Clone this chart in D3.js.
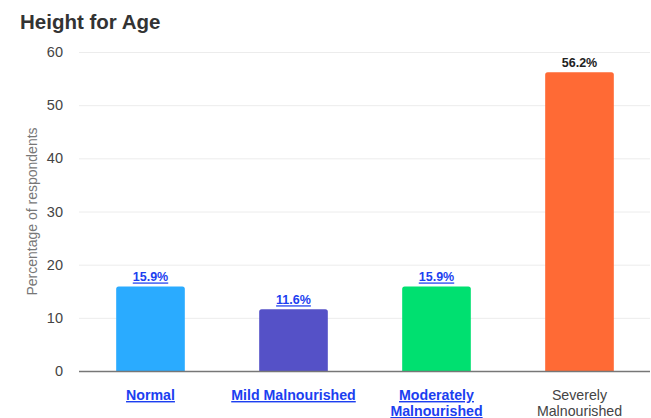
<!DOCTYPE html>
<html>
<head>
<meta charset="utf-8">
<script src="https://cdn.jsdelivr.net/npm/d3@7"></script>
<style>
  html, body { margin: 0; padding: 0; background: #fff; }
  svg { display: block; font-family: Arial, "Liberation Sans", sans-serif; }
</style>
</head>
<body>
<svg id="chart" width="651" height="418"></svg>
<script>
// Height-for-age nutrition status of respondents (%)
const categories = ["Normal", "Mild Malnourished", "Moderately Malnourished", "Severely Malnourished"];
const categoryLines = [["Normal"], ["Mild Malnourished"], ["Moderately", "Malnourished"], ["Severely", "Malnourished"]];
const values = [15.9, 11.6, 15.9, 56.2];
const barColors = ["#2aabff", "#5551c7", "#00e070", "#ff6a35"];
const linked = [true, true, true, false];
const yTicks = [0, 10, 20, 30, 40, 50, 60];

const linkColor = "#1c3ff0";
const svg = d3.select("#chart");
const margin = { left: 79, right: 0, top: 52, bottom: 47 };
const W = 651, H = 418;

const x = d3.scaleBand().domain(categories).range([margin.left, W - margin.right]).paddingInner(0.52).paddingOuter(0.26);
const y = d3.scaleLinear().domain([0, 60]).range([H - margin.bottom, margin.top]);

// title
svg.append("text").attr("x", 20).attr("y", 29)
  .attr("font-size", 20.5).attr("font-weight", "bold").attr("fill", "#333")
  .text("Height for Age");

// gridlines
svg.append("g").selectAll("line").data(yTicks.filter(d => d > 0)).join("line")
  .attr("x1", margin.left).attr("x2", W - 1)
  .attr("y1", d => y(d) + 0.5).attr("y2", d => y(d) + 0.5)
  .attr("stroke", "#ececec").attr("stroke-width", 1);

// y axis tick labels
const yAxis = d3.axisLeft(y).tickValues(yTicks).tickSize(0).tickPadding(16);
const gy = svg.append("g").attr("transform", `translate(${margin.left},0)`).call(yAxis);
gy.select(".domain").remove();
gy.selectAll("text").attr("font-size", 14.5).attr("fill", "#444").attr("font-family", "Arial, 'Liberation Sans', sans-serif");

// y axis title
svg.append("text")
  .attr("transform", `translate(37,${(y(0) + y(60)) / 2}) rotate(-90)`)
  .attr("text-anchor", "middle").attr("font-size", 14).attr("fill", "#777")
  .text("Percentage of respondents");

// bars with slightly rounded top corners
const r = 2.5;
svg.append("g").selectAll("path").data(categories).join("path")
  .attr("d", (c, i) => {
    const x0 = x(c), x1 = x(c) + x.bandwidth(), y0 = y(0), y1 = y(values[i]);
    return `M${x0},${y0}V${y1 + r}Q${x0},${y1} ${x0 + r},${y1}H${x1 - r}Q${x1},${y1} ${x1},${y1 + r}V${y0}Z`;
  })
  .attr("fill", (c, i) => barColors[i]);

// baseline
svg.append("line").attr("x1", margin.left).attr("x2", W - 1)
  .attr("y1", y(0) + 0.5).attr("y2", y(0) + 0.5)
  .attr("stroke", "#777").attr("stroke-width", 1.5);

// value labels
svg.append("g").selectAll("text").data(categories).join("text")
  .attr("x", c => x(c) + x.bandwidth() / 2)
  .attr("y", (c, i) => y(values[i]) - 5)
  .attr("text-anchor", "middle").attr("font-size", 12.5).attr("font-weight", "bold")
  .attr("fill", (c, i) => linked[i] ? linkColor : "#222")
  .attr("text-decoration", (c, i) => linked[i] ? "underline" : "none")
  .text((c, i) => values[i].toFixed(1) + "%");

// category labels
const xl = svg.append("g").selectAll("text").data(categories).join("text")
  .attr("x", c => x(c) + x.bandwidth() / 2)
  .attr("y", 400)
  .attr("text-anchor", "middle").attr("font-size", 14.2)
  .attr("font-weight", (c, i) => linked[i] ? "bold" : "normal")
  .attr("fill", (c, i) => linked[i] ? linkColor : "#444")
  .attr("text-decoration", (c, i) => linked[i] ? "underline" : "none");
xl.each(function (c, i) {
  const t = d3.select(this);
  categoryLines[i].forEach((line, k) => {
    t.append("tspan").attr("x", x(c) + x.bandwidth() / 2).attr("dy", k === 0 ? 0 : 16).text(line);
  });
});
</script>
</body>
</html>
